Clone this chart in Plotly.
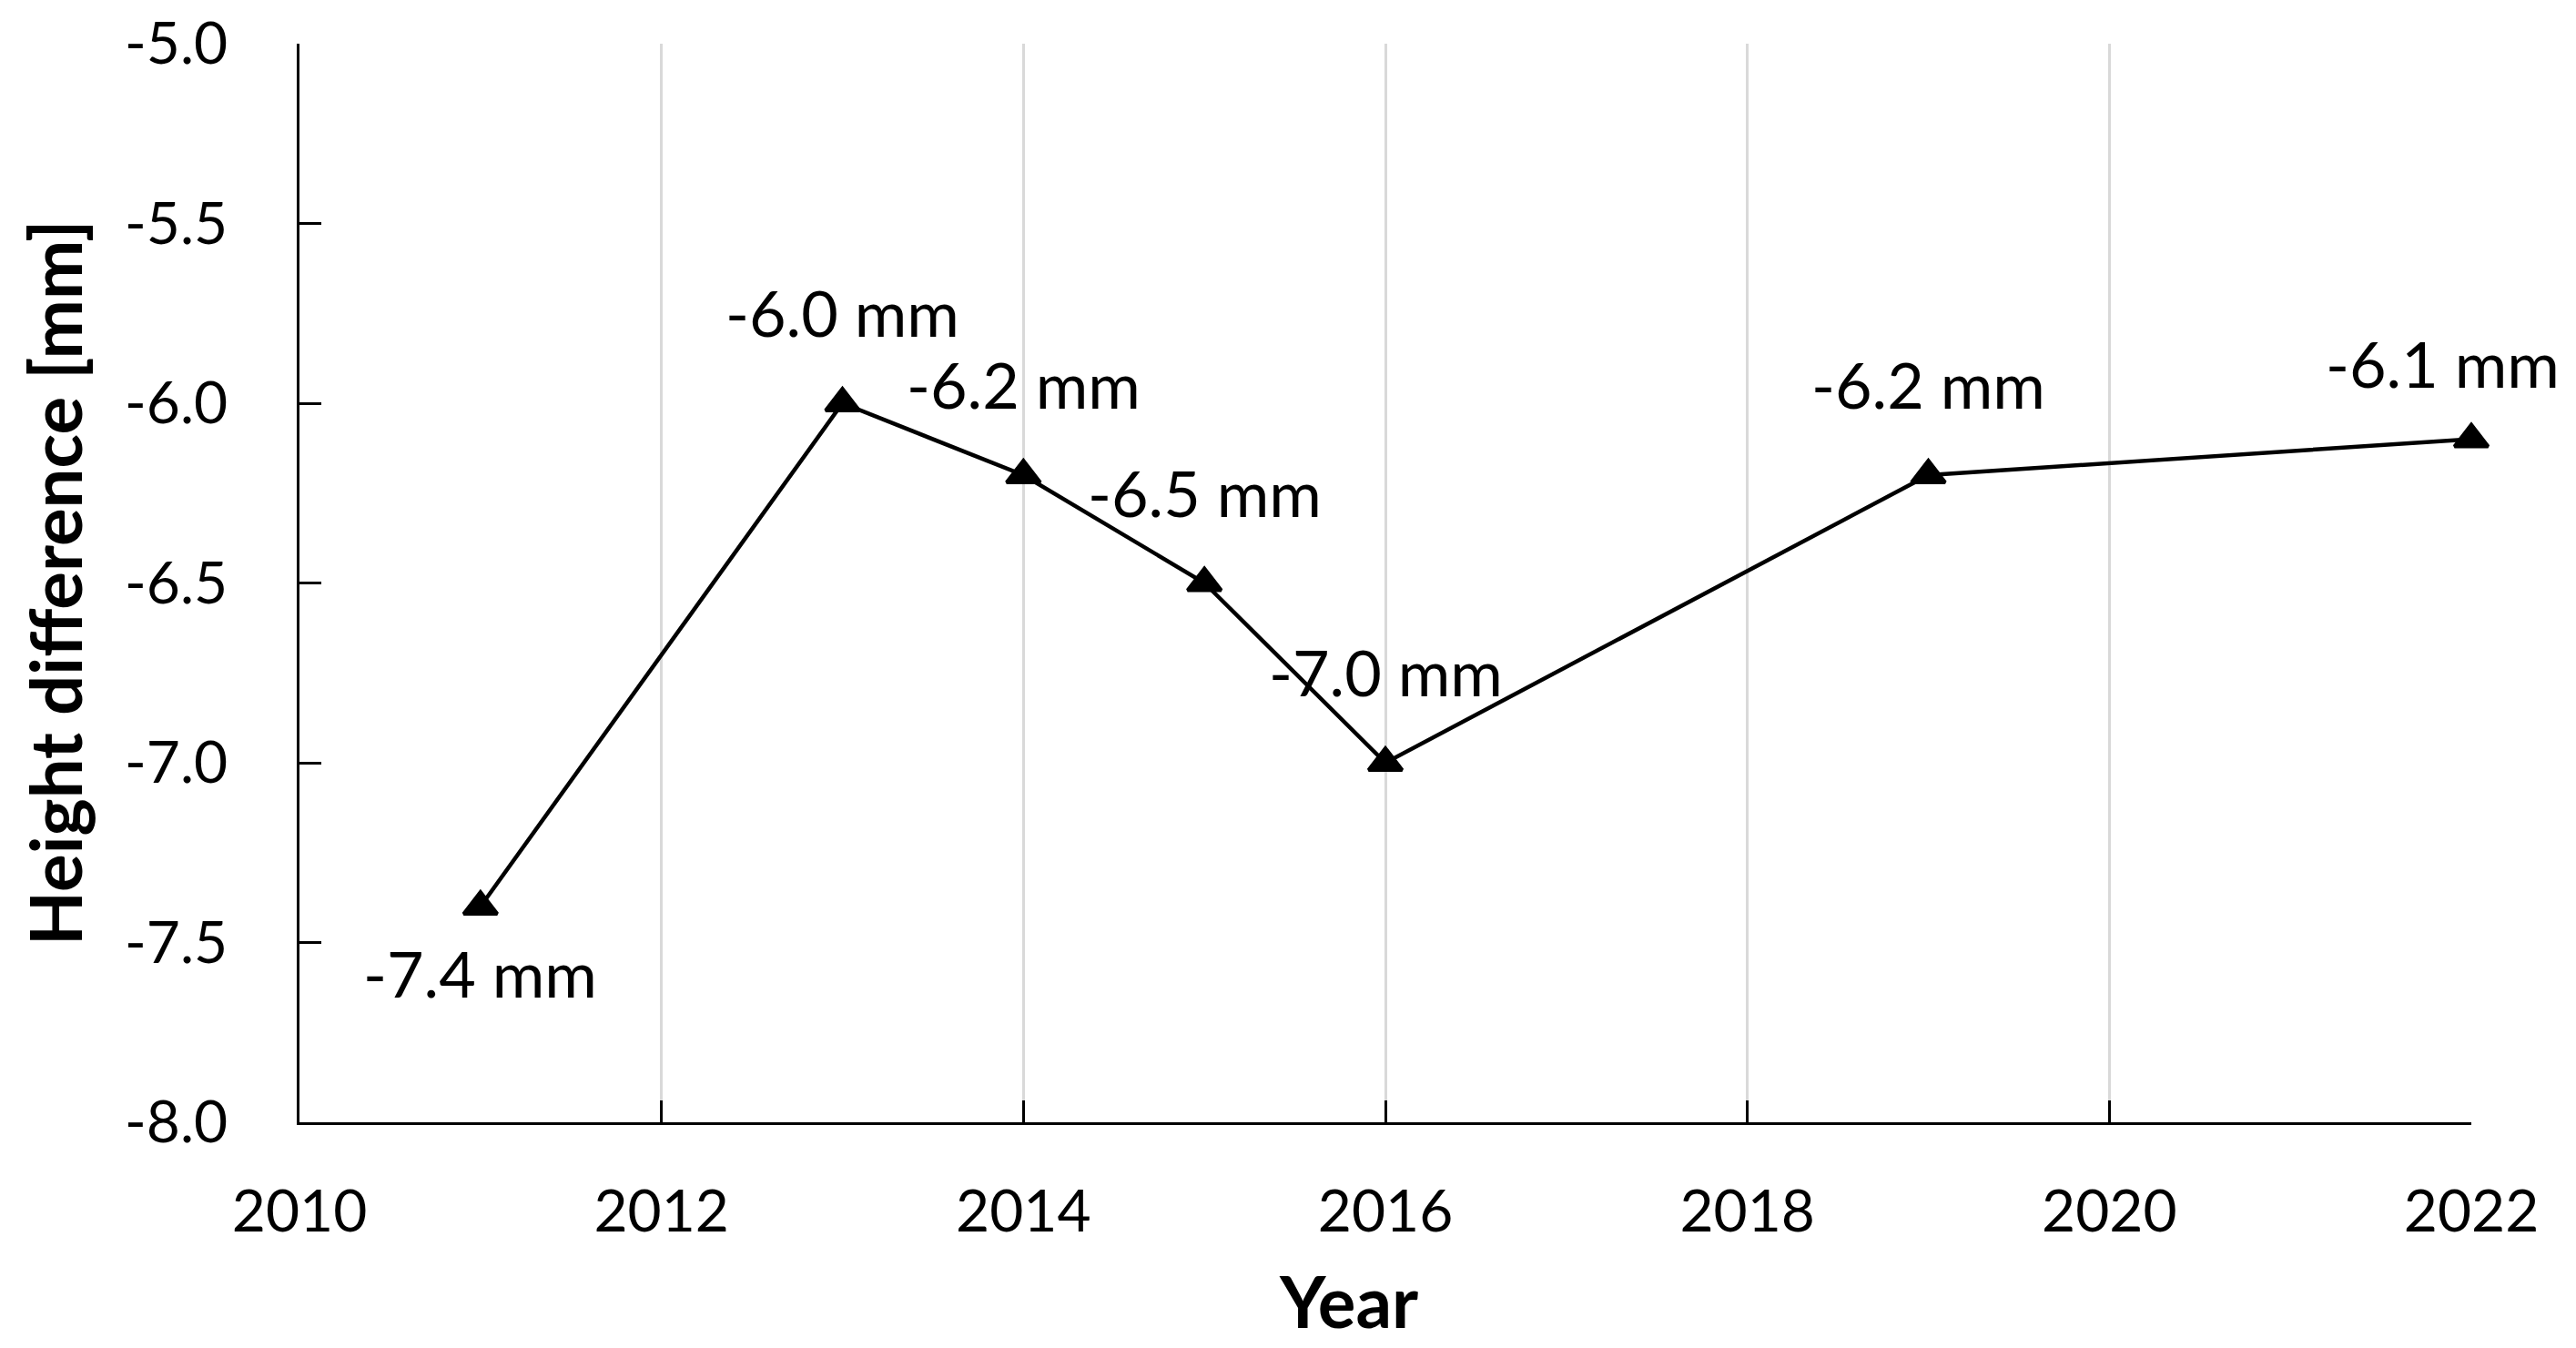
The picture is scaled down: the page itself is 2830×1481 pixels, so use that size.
import plotly.graph_objects as go

years = [2011, 2013, 2014, 2015, 2016, 2019, 2022]
height_diff = [-7.4, -6.0, -6.2, -6.5, -7.0, -6.2, -6.1]
x_ticks = [2010, 2012, 2014, 2016, 2018, 2020, 2022]
y_ticks = [-8.0, -7.5, -7.0, -6.5, -6.0, -5.5, -5.0]
label_xshift = [0, 0, 0, 0, 0, 0, -32]
label_yshift = [-73, 100, 100, 100, 100, 100, 84]

FONT = "Lato"
fig = go.Figure()
fig.add_trace(go.Scatter(
    x=years, y=height_diff, mode="lines+markers",
    line=dict(color="black", width=4.5),
    marker=dict(symbol="triangle-up", size=32, color="black",
                line=dict(color="black", width=4)),
    showlegend=False, cliponaxis=False,
))
for xv, yv, dx, dy in zip(years, height_diff, label_xshift, label_yshift):
    fig.add_annotation(x=xv, y=yv, text=f"{yv:.1f} mm", showarrow=False,
                       xshift=dx, yshift=dy, xanchor="center", yanchor="middle",
                       font=dict(family=FONT, size=70, color="black"))

fig.add_annotation(xref="paper", yref="paper", x=0.483, y=-0.165,
                   text="<b>Year</b>", showarrow=False, xanchor="center", yanchor="middle",
                   font=dict(family=FONT, size=78, color="black"))
fig.add_annotation(xref="paper", yref="paper", x=-0.113, y=0.5,
                   text="<b>Height difference [mm]</b>", showarrow=False, textangle=-90,
                   xanchor="center", yanchor="middle",
                   font=dict(family=FONT, size=78, color="black"))

fig.update_layout(
    width=2830, height=1481,
    margin=dict(l=321, r=123, t=40, b=256, autoexpand=False),
    paper_bgcolor="white", plot_bgcolor="white",
    font=dict(family=FONT, size=64, color="black"),
    xaxis=dict(range=[2010, 2022], tickvals=x_ticks, ticktext=[str(v) for v in x_ticks],
               showgrid=True, gridcolor="#d9d9d9", gridwidth=3,
               showline=True, linecolor="black", linewidth=3,
               ticks="inside", ticklen=24, tickwidth=3, tickcolor="black",
               ticklabelstandoff=40, automargin=False, zeroline=False),
    yaxis=dict(range=[-8.0, -5.0], tickvals=y_ticks, ticktext=[f"{v:.1f}" for v in y_ticks],
               showgrid=False, showline=True, linecolor="black", linewidth=3,
               ticks="inside", ticklen=24, tickwidth=3, tickcolor="black",
               ticklabelstandoff=63, ticklabeloverflow="allow", automargin=False,
               zeroline=False),
)
fig.write_html("out.html")
